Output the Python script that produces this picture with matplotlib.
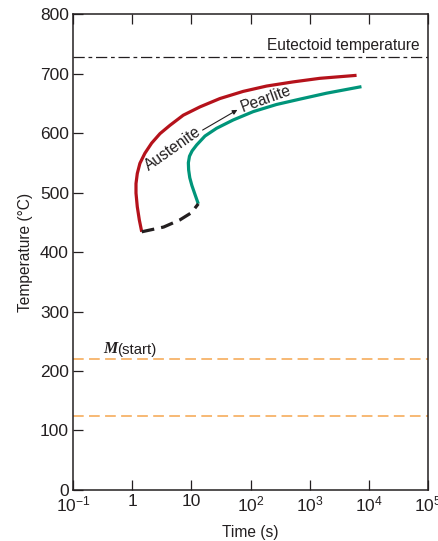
import numpy as np
import matplotlib
matplotlib.use('Agg')
import matplotlib.pyplot as plt

plt.rcParams['font.family'] = ['Liberation Sans', 'DejaVu Sans']
plt.rcParams['mathtext.fontset'] = 'custom'
plt.rcParams['mathtext.rm'] = 'Liberation Sans'
plt.rcParams['mathtext.it'] = 'Liberation Sans:italic'

# transformation start curve (red): time (s), temperature (C)
start_time = [1.45, 1.32, 1.22, 1.16, 1.16, 1.22, 1.35, 1.64, 2.13, 2.95, 4.35,
              7.3, 14, 30.4, 75, 187, 527, 1490, 6200]
start_temp = [434, 454, 476, 499, 515, 532, 549, 566, 583, 599, 613,
              630, 644, 658, 670, 679, 686, 692, 697]

# transformation finish curve (green)
finish_time = [13.1, 11.5, 10.2, 9.4, 9.0, 8.9, 9.3, 10.3, 12.3, 17, 26.7, 51, 111,
               275, 683, 1930, 7500]
finish_temp = [481, 497, 512, 525, 538, 550, 561, 570, 580, 595, 608, 622, 636,
               648, 657, 667, 678]

# dashed black connection at the bottom ends
nose_time = [1.45, 3.4, 6.4, 10, 13.1]
nose_temp = [434, 442, 454, 466, 481]

eutectoid_temp = 727
ms_temp = 220
mf_temp = 125

xticks = [1e-1, 1, 10, 1e2, 1e3, 1e4, 1e5]
xtick_labels = [r'$10^{-1}$', '1', '10', r'$10^{2}$', r'$10^{3}$', r'$10^{4}$', r'$10^{5}$']
yticks = [0, 100, 200, 300, 400, 500, 600, 700, 800]

fig = plt.figure(figsize=(4.38, 5.41), dpi=100)
ax = fig.add_axes([0.1667, 0.0943, 0.8105, 0.8797])

ax.plot(start_time, start_temp, color='#b5121b', lw=2.3, solid_capstyle='butt')
ax.plot(finish_time, finish_temp, color='#00957a', lw=2.3, solid_capstyle='butt')
ax.plot(nose_time, nose_temp, color='#231f20', lw=2.3, dashes=(4, 2.2))

ax.axhline(eutectoid_temp, color='#231f20', lw=0.9, dashes=(9, 3, 3, 3))
ax.axhline(ms_temp, color='#f5a64e', lw=1.1, dashes=(7, 3.5))
ax.axhline(mf_temp, color='#f5a64e', lw=1.1, dashes=(7, 3.5))

ax.text(7.2e4, 734, 'Eutectoid temperature', ha='right', va='bottom', fontsize=11.2,
        color='#231f20')
ax.text(0.33, 224, 'M', ha='left', va='bottom', fontsize=11.5, fontstyle='italic',
        fontweight='bold', family=['Liberation Serif', 'DejaVu Serif'], color='#231f20')
ax.text(0.565, 224, '(start)', ha='left', va='bottom', fontsize=10.8, color='#231f20')

ax.text(4.9, 573, 'Austenite', ha='center', va='center', rotation=35, fontsize=11.2,
        color='#231f20', rotation_mode='anchor')
ax.text(180, 658, 'Pearlite', ha='center', va='center', rotation=20, fontsize=11.2,
        color='#231f20', rotation_mode='anchor')
ax.annotate('', xy=(60, 639), xytext=(15.5, 605),
            arrowprops=dict(arrowstyle='-|>', color='#231f20', lw=0.8,
                            mutation_scale=7, shrinkA=0, shrinkB=0))

ax.set_xscale('log')
ax.set_xlim(1e-1, 1e5)
ax.set_ylim(0, 800)
ax.set_xticks(xticks)
ax.set_xticklabels(xtick_labels)
ax.minorticks_off()
ax.set_yticks(yticks)
ax.tick_params(direction='in', length=7, width=0.9, labelsize=12.5, colors='#231f20',
               top=True, right=False, pad=3)
for s in ax.spines.values():
    s.set_linewidth(1.1)
    s.set_color('#231f20')

ax.set_xlabel('Time (s)', fontsize=11.2, color='#231f20', labelpad=8)
ax.set_ylabel('Temperature (°C)', fontsize=11.2, color='#231f20', labelpad=5)

fig.savefig('out.png', dpi=100)
